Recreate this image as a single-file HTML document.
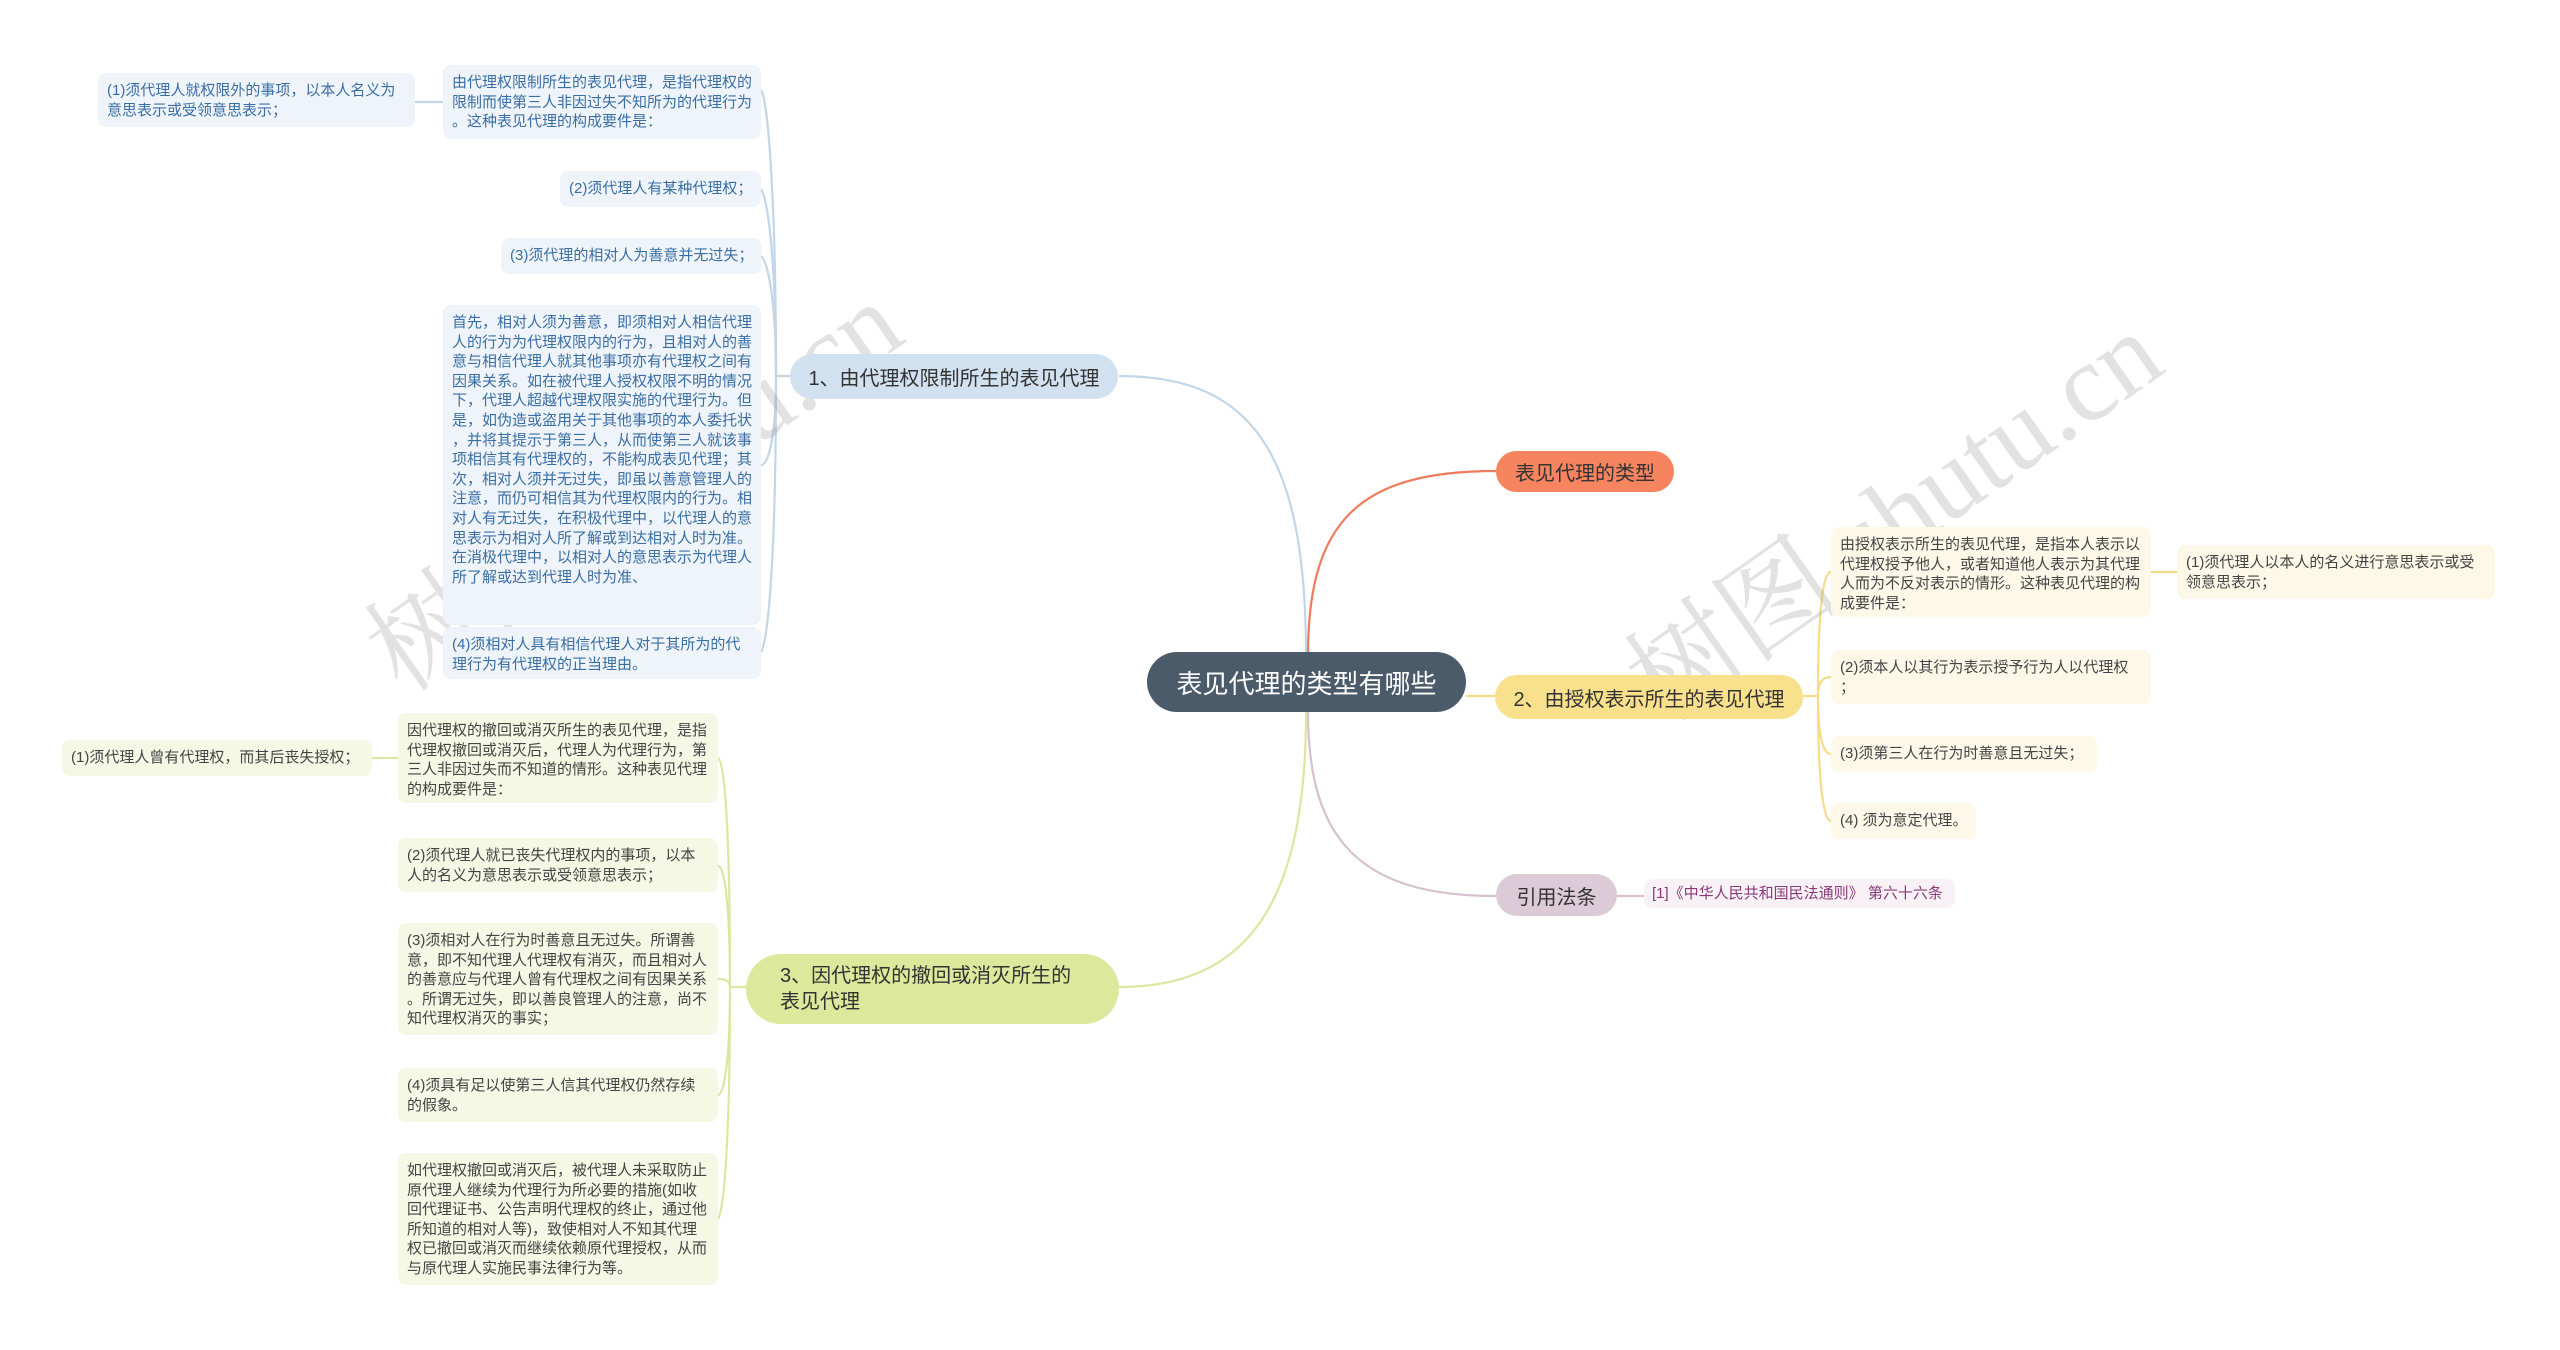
<!DOCTYPE html>
<html><head><meta charset="utf-8">
<style>
*{margin:0;padding:0;box-sizing:border-box}
body{width:2560px;height:1350px;background:#fff;position:relative;overflow:hidden;font-family:"Liberation Sans","Noto Sans CJK SC",sans-serif}
.n{position:absolute;border-radius:8px;font-size:15px;line-height:19.6px;padding:8px 9px 4px;white-space:nowrap}
.b{background:#eef4fa;color:#3a6ea5}
.g{background:#f5f8e4;color:#444}
.y{background:#fdf8e8;color:#444}
.m{position:absolute;border-radius:24px;display:flex;align-items:center;font-size:20px;color:#333;white-space:nowrap}
.wm{position:absolute;font-size:110px;color:rgba(150,150,150,0.28);transform:rotate(-35deg);white-space:nowrap;font-family:"Liberation Serif","Noto Serif CJK SC",serif}
</style></head><body>
<svg width="2560" height="1350" style="position:absolute;left:0;top:0" fill="none" stroke-width="2.2">
<path d="M1306 655 C1306 450 1250 376 1119 376" stroke="#c3d6e8"/>
<path d="M1308 655 C1308 520 1360 471 1496 471" stroke="#ee7b5c"/>
<path d="M1466 696 L1496 696" stroke="#f5dc88"/>
<path d="M1308 712 C1308 840 1360 896 1496 896" stroke="#d6c1cf"/>
<path d="M1306 712 C1306 900 1250 987 1119 987" stroke="#dde6a0"/>
<g stroke="#c3d6e8">
<path d="M790 376 L776 376"/>
<path d="M776 376 C776 200 768 100 761 90"/>
<path d="M776 376 C776 260 768 200 761 189"/>
<path d="M776 376 C776 300 768 262 761 256"/>
<path d="M776 376 C776 440 768 465 761 465"/>
<path d="M776 376 C776 560 768 640 761 652"/>
<path d="M443 102 L415 102"/>
</g>
<g stroke="#dde6a0">
<path d="M746 987 L730 987"/>
<path d="M730 987 C730 820 724 760 718 758"/>
<path d="M730 987 C730 900 724 866 718 866"/>
<path d="M730 987 C730 980 724 979 718 979"/>
<path d="M730 987 C730 1060 724 1095 718 1095"/>
<path d="M730 987 C730 1140 724 1210 718 1219"/>
<path d="M398 758 L372 758"/>
</g>
<g stroke="#f5dc88">
<path d="M1803 696 L1818 696"/>
<path d="M1818 696 C1818 600 1824 572 1831 572"/>
<path d="M1818 696 C1818 680 1824 677 1831 677"/>
<path d="M1818 696 C1818 740 1824 754 1831 754"/>
<path d="M1818 696 C1818 790 1824 821 1831 821"/>
<path d="M2151 572 L2177 572"/>
</g>
<path d="M1617 896 L1644 896" stroke="#d6c1cf"/>
</svg>

<div class="wm" style="left:320px;top:400px">树图 shutu.cn</div>
<div class="wm" style="left:1580px;top:430px">树图 shutu.cn</div>

<div class="m" style="left:1147px;top:652px;width:319px;height:60px;border-radius:30px;background:#4b5b6a;color:#fff;font-size:26px;justify-content:center">表见代理的类型有哪些</div>
<div class="m" style="left:1496px;top:451px;width:178px;height:41px;background:#f6845f;justify-content:center">表见代理的类型</div>
<div class="m" style="left:1495px;top:675px;width:308px;height:44px;background:#f8e08c;justify-content:center">2、由授权表示所生的表见代理</div>
<div class="m" style="left:1496px;top:874px;width:121px;height:42px;background:#dccad6;justify-content:center">引用法条</div>
<div class="n" style="left:1644px;top:879px;width:311px;height:29px;padding:5px 8px 3px;background:#f8f1f5;color:#8a3a78">[1]《中华人民共和国民法通则》 第六十六条</div>
<div class="m" style="left:790px;top:354px;width:328px;height:45px;background:#d2e1f0;justify-content:center">1、由代理权限制所生的表见代理</div>
<div class="m" style="left:746px;top:954px;width:373px;height:70px;border-radius:35px;background:#dce89c;padding-left:34px;line-height:26px">3、因代理权的撤回或消灭所生的<br>表见代理</div>

<div class="n b" style="left:98px;top:73px;width:317px;height:54px">(1)须代理人就权限外的事项，以本人名义为<br>意思表示或受领意思表示；</div>
<div class="n b" style="left:443px;top:65px;width:318px;height:74px">由代理权限制所生的表见代理，是指代理权的<br>限制而使第三人非因过失不知所为的代理行为<br>。这种表见代理的构成要件是：</div>
<div class="n b" style="left:560px;top:171px;width:201px;height:36px">(2)须代理人有某种代理权；</div>
<div class="n b" style="left:501px;top:238px;width:260px;height:36px">(3)须代理的相对人为善意并无过失；</div>
<div class="n b" style="left:443px;top:305px;width:318px;height:320px">首先，相对人须为善意，即须相对人相信代理<br>人的行为为代理权限内的行为，且相对人的善<br>意与相信代理人就其他事项亦有代理权之间有<br>因果关系。如在被代理人授权权限不明的情况<br>下，代理人超越代理权限实施的代理行为。但<br>是，如伪造或盗用关于其他事项的本人委托状<br>，并将其提示于第三人，从而使第三人就该事<br>项相信其有代理权的，不能构成表见代理；其<br>次，相对人须并无过失，即虽以善意管理人的<br>注意，而仍可相信其为代理权限内的行为。相<br>对人有无过失，在积极代理中，以代理人的意<br>思表示为相对人所了解或到达相对人时为准。<br>在消极代理中，以相对人的意思表示为代理人<br>所了解或达到代理人时为准、</div>
<div class="n b" style="left:443px;top:627px;width:318px;height:52px">(4)须相对人具有相信代理人对于其所为的代<br>理行为有代理权的正当理由。</div>

<div class="n g" style="left:62px;top:740px;width:310px;height:36px">(1)须代理人曾有代理权，而其后丧失授权；</div>
<div class="n g" style="left:398px;top:713px;width:320px;height:90px">因代理权的撤回或消灭所生的表见代理，是指<br>代理权撤回或消灭后，代理人为代理行为，第<br>三人非因过失而不知道的情形。这种表见代理<br>的构成要件是：</div>
<div class="n g" style="left:398px;top:838px;width:320px;height:54px">(2)须代理人就已丧失代理权内的事项，以本<br>人的名义为意思表示或受领意思表示；</div>
<div class="n g" style="left:398px;top:923px;width:320px;height:112px">(3)须相对人在行为时善意且无过失。所谓善<br>意，即不知代理人代理权有消灭，而且相对人<br>的善意应与代理人曾有代理权之间有因果关系<br>。所谓无过失，即以善良管理人的注意，尚不<br>知代理权消灭的事实；</div>
<div class="n g" style="left:398px;top:1068px;width:320px;height:54px">(4)须具有足以使第三人信其代理权仍然存续<br>的假象。</div>
<div class="n g" style="left:398px;top:1153px;width:320px;height:132px">如代理权撤回或消灭后，被代理人未采取防止<br>原代理人继续为代理行为所必要的措施(如收<br>回代理证书、公告声明代理权的终止，通过他<br>所知道的相对人等)，致使相对人不知其代理<br>权已撤回或消灭而继续依赖原代理授权，从而<br>与原代理人实施民事法律行为等。</div>

<div class="n y" style="left:1831px;top:527px;width:320px;height:90px">由授权表示所生的表见代理，是指本人表示以<br>代理权授予他人，或者知道他人表示为其代理<br>人而为不反对表示的情形。这种表见代理的构<br>成要件是：</div>
<div class="n y" style="left:2177px;top:545px;width:318px;height:54px">(1)须代理人以本人的名义进行意思表示或受<br>领意思表示；</div>
<div class="n y" style="left:1831px;top:650px;width:320px;height:54px">(2)须本人以其行为表示授予行为人以代理权<br>；</div>
<div class="n y" style="left:1831px;top:736px;width:266px;height:36px">(3)须第三人在行为时善意且无过失；</div>
<div class="n y" style="left:1831px;top:803px;width:145px;height:36px">(4) 须为意定代理。</div>
</body></html>
